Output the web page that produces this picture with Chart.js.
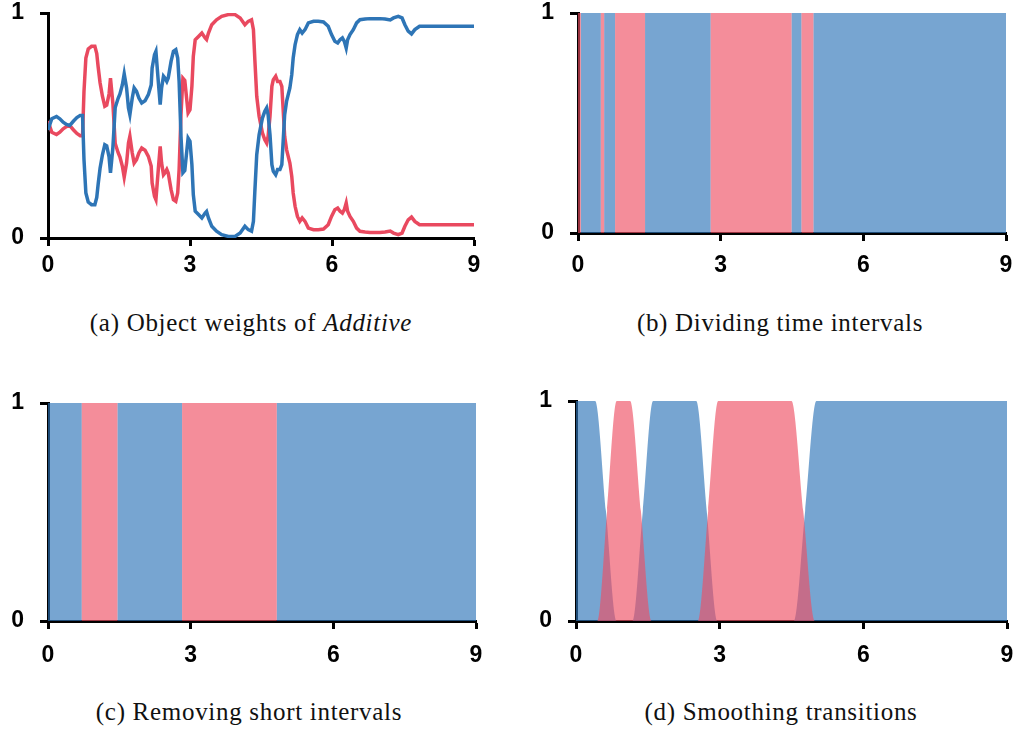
<!DOCTYPE html>
<html>
<head>
<meta charset="utf-8">
<script src="https://cdn.jsdelivr.net/npm/chart.js@4.4.1/dist/chart.umd.min.js"></script>
<style>
  body { margin: 0; background: #fff; }
  .wrap { position: relative; width: 1021px; height: 730px; }
  canvas { position: absolute; }
  .cap {
    position: absolute; width: 500px; text-align: center;
    font-family: "Liberation Serif", "Times New Roman", serif;
    font-size: 25px; letter-spacing: 0.7px; color: #111; line-height: 30px;
  }
</style>
</head>
<body>
<div class="wrap">
  <canvas id="chartA" width="500" height="290" style="left:0;top:0"></canvas>
  <canvas id="chartB" width="521" height="290" style="left:500px;top:0"></canvas>
  <canvas id="chartC" width="500" height="300" style="left:0;top:380px"></canvas>
  <canvas id="chartD" width="521" height="300" style="left:500px;top:380px"></canvas>
  <div class="cap" style="left:1px;top:308px">(a) Object weights of <i>Additive</i></div>
  <div class="cap" style="left:530px;top:308px">(b) Dividing time intervals</div>
  <div class="cap" style="left:-1px;top:697px">(c) Removing short intervals</div>
  <div class="cap" style="left:531px;top:697px">(d) Smoothing transitions</div>
</div>
<script>
// (a) object weights
const timeA = [
  0, 0.08, 0.18, 0.25, 0.32, 0.39, 0.46, 0.54, 0.61, 0.68,
  0.73, 0.76, 0.80, 0.85, 0.92, 0.99, 1.03, 1.06, 1.10, 1.15,
  1.20, 1.24, 1.29, 1.32, 1.37, 1.42, 1.48, 1.52, 1.57, 1.61,
  1.66, 1.70, 1.73, 1.78, 1.82, 1.87, 1.92, 1.98, 2.05, 2.12,
  2.18, 2.20, 2.25, 2.28, 2.33, 2.37, 2.40, 2.44, 2.47, 2.51,
  2.54, 2.60, 2.65, 2.70, 2.74, 2.77, 2.81, 2.85, 2.89, 2.96,
  3.00, 3.04, 3.07, 3.11, 3.18, 3.25, 3.32, 3.35, 3.39, 3.46,
  3.56, 3.67, 3.81, 3.95, 4.06, 4.16, 4.23, 4.30, 4.34, 4.37,
  4.41, 4.46, 4.53, 4.58, 4.62, 4.65, 4.69, 4.73, 4.76, 4.81,
  4.85, 4.90, 4.94, 4.96, 5.00, 5.04, 5.11, 5.15, 5.18, 5.22,
  5.27, 5.32, 5.37, 5.43, 5.50, 5.61, 5.71, 5.82, 5.92, 5.99,
  6.06, 6.12, 6.17, 6.22, 6.26, 6.30, 6.33, 6.38, 6.45, 6.52,
  6.59, 6.70, 6.80, 6.91, 7.01, 7.12, 7.23, 7.30, 7.40, 7.48,
  7.54, 7.61, 7.68, 7.75, 7.85, 7.96, 9.00
];
const blueA = [
  0.48, 0.53, 0.54, 0.53, 0.515, 0.505, 0.50, 0.52, 0.535, 0.545,
  0.545, 0.35, 0.20, 0.16, 0.148, 0.148, 0.18, 0.24, 0.31, 0.37,
  0.415, 0.41, 0.36, 0.29, 0.40, 0.58, 0.62, 0.64, 0.68, 0.73,
  0.667, 0.578, 0.548, 0.622, 0.667, 0.652, 0.622, 0.60, 0.61, 0.637,
  0.68, 0.756, 0.815, 0.83, 0.696, 0.593, 0.667, 0.719, 0.711, 0.696,
  0.711, 0.785, 0.83, 0.837, 0.80, 0.696, 0.45, 0.29, 0.30, 0.444,
  0.43, 0.326, 0.193, 0.119, 0.104, 0.089, 0.111, 0.118, 0.089, 0.052,
  0.03, 0.015, 0.007, 0.007, 0.022, 0.052, 0.037, 0.03, 0.074, 0.207,
  0.37, 0.459, 0.533, 0.563, 0.578, 0.548, 0.459, 0.326, 0.296, 0.281,
  0.304, 0.304, 0.326, 0.40, 0.548, 0.607, 0.667, 0.726, 0.80, 0.859,
  0.904, 0.926, 0.911, 0.926, 0.956, 0.963, 0.963, 0.96, 0.941, 0.904,
  0.874, 0.867, 0.881, 0.889, 0.874, 0.844, 0.881, 0.904, 0.926, 0.956,
  0.97, 0.973, 0.975, 0.975, 0.975, 0.973, 0.969, 0.978, 0.985, 0.978,
  0.948, 0.919, 0.907, 0.926, 0.941, 0.941, 0.941
];
const redA = [
  0.52, 0.47, 0.46, 0.47, 0.485, 0.495, 0.50, 0.48, 0.465, 0.455,
  0.455, 0.65, 0.80, 0.84, 0.852, 0.852, 0.82, 0.76, 0.69, 0.63,
  0.585, 0.59, 0.64, 0.71, 0.60, 0.42, 0.38, 0.36, 0.32, 0.27,
  0.333, 0.422, 0.452, 0.378, 0.333, 0.348, 0.378, 0.40, 0.39, 0.363,
  0.32, 0.244, 0.185, 0.17, 0.304, 0.407, 0.333, 0.281, 0.289, 0.304,
  0.289, 0.215, 0.17, 0.163, 0.20, 0.304, 0.55, 0.71, 0.70, 0.556,
  0.57, 0.674, 0.807, 0.881, 0.896, 0.911, 0.889, 0.882, 0.911, 0.948,
  0.97, 0.985, 0.993, 0.993, 0.978, 0.948, 0.963, 0.97, 0.926, 0.793,
  0.63, 0.541, 0.467, 0.437, 0.422, 0.452, 0.541, 0.674, 0.704, 0.719,
  0.696, 0.696, 0.674, 0.60, 0.452, 0.393, 0.333, 0.274, 0.20, 0.141,
  0.096, 0.074, 0.089, 0.074, 0.044, 0.037, 0.037, 0.04, 0.059, 0.096,
  0.126, 0.133, 0.119, 0.111, 0.126, 0.156, 0.119, 0.096, 0.074, 0.044,
  0.03, 0.027, 0.025, 0.025, 0.025, 0.027, 0.031, 0.022, 0.015, 0.022,
  0.052, 0.081, 0.093, 0.074, 0.059, 0.059, 0.059
];

// (b) raw intervals, (c) after removing short ones
const breaksB = [0, 0.06, 0.48, 0.55, 0.78, 1.41, 2.79, 4.49, 4.70, 4.95, 9];
const statesB = ['r', 'b', 'r', 'b', 'r', 'b', 'r', 'b', 'r', 'b'];
const breaksC = [0, 0.71, 1.46, 2.82, 4.81, 9];
const statesC = ['b', 'r', 'b', 'r', 'b'];

// (d) smoothed weights
const blueDX = [0, 0.40, 0.625, 0.85, 1.18, 1.395, 1.61, 2.51, 2.73, 2.95, 4.55, 4.785, 5.02, 9];
const blueDY = [1, 1, 0.5, 0, 0, 0.5, 1, 1, 0.5, 0, 0, 0.5, 1, 1];
const redDX = [0, 0.45, 0.65, 0.85, 1.13, 1.355, 1.58, 2.55, 2.76, 2.97, 4.50, 4.745, 4.99, 9];
const redDY = [0, 0, 0.5, 1, 1, 0.5, 0, 0, 0.5, 1, 1, 0.5, 0, 0];

const xTicks = [0, 3, 6, 9];
const yTicks = [0, 1];

const blueLine = '#2E75B6';
const redLine = '#E9495F';
const blueFill = 'rgba(46,117,185,0.65)';
const redFill = 'rgba(238,80,100,0.65)';
const tickFont = { family: '"Liberation Sans", Arial, sans-serif', size: 23, weight: 'bold' };

function pts(xs, ys) {
  return xs.map((x, i) => ({ x: x, y: ys[i] }));
}

function steps(breaks, states, key) {
  return breaks.map((x, i) => ({ x: x, y: states[Math.min(i, states.length - 1)] === key ? 1 : 0 }));
}

function axes(yWidth, xHeight, xPad) {
  const grid = { drawOnChartArea: false, tickLength: 8, tickColor: '#000', tickWidth: 3 };
  const border = { color: '#000', width: 3 };
  return {
    x: {
      type: 'linear', min: 0, max: 9, z: 1, border: border, grid: grid,
      afterBuildTicks: s => { s.ticks = xTicks.map(v => ({ value: v })); },
      ticks: { padding: xPad, color: '#000', font: tickFont, maxRotation: 0 },
      afterFit: s => { s.height = xHeight; s.paddingLeft = 0; s.paddingRight = 0; }
    },
    y: {
      type: 'linear', min: 0, max: 1, z: 1, border: border, grid: grid,
      afterBuildTicks: s => { s.ticks = yTicks.map(v => ({ value: v })); },
      ticks: { padding: 16, color: '#000', font: tickFont },
      afterFit: s => { s.width = yWidth; s.paddingTop = 0; s.paddingBottom = 0; }
    }
  };
}

function baseOptions(scales, pad) {
  return {
    responsive: false,
    animation: false,
    devicePixelRatio: 1,
    layout: { padding: pad },
    plugins: { legend: { display: false }, tooltip: { enabled: false } },
    elements: { point: { radius: 0 } },
    scales: scales
  };
}

new Chart(document.getElementById('chartA'), {
  type: 'line',
  data: {
    datasets: [
      { data: pts(timeA, blueA), borderColor: blueLine, borderWidth: 3.5, fill: false },
      { data: pts(timeA, redA), borderColor: redLine, borderWidth: 3.5, fill: false }
    ]
  },
  options: baseOptions(axes(48, 52, 6), { top: 13, right: 26, left: 0, bottom: 0 })
});

new Chart(document.getElementById('chartB'), {
  type: 'line',
  data: {
    datasets: [
      { data: steps(breaksB, statesB, 'r'), stepped: true, borderWidth: 0, backgroundColor: redFill, fill: 'origin' },
      { data: steps(breaksB, statesB, 'b'), stepped: true, borderWidth: 0, backgroundColor: blueFill, fill: 'origin' }
    ]
  },
  options: baseOptions(axes(78, 57, 11), { top: 13, right: 15, left: 0, bottom: 0 })
});

new Chart(document.getElementById('chartC'), {
  type: 'line',
  data: {
    datasets: [
      { data: steps(breaksC, statesC, 'r'), stepped: true, borderWidth: 0, backgroundColor: redFill, fill: 'origin' },
      { data: steps(breaksC, statesC, 'b'), stepped: true, borderWidth: 0, backgroundColor: blueFill, fill: 'origin' }
    ]
  },
  options: baseOptions(axes(48, 59, 13), { top: 23, right: 24, left: 0, bottom: 0 })
});

new Chart(document.getElementById('chartD'), {
  type: 'line',
  data: {
    datasets: [
      { data: pts(redDX, redDY), cubicInterpolationMode: 'monotone', borderWidth: 0, backgroundColor: redFill, fill: 'origin' },
      { data: pts(blueDX, blueDY), cubicInterpolationMode: 'monotone', borderWidth: 0, backgroundColor: blueFill, fill: 'origin' }
    ]
  },
  options: baseOptions(axes(76, 59, 13), { top: 21, right: 14, left: 0, bottom: 0 })
});
</script>
</body>
</html>
